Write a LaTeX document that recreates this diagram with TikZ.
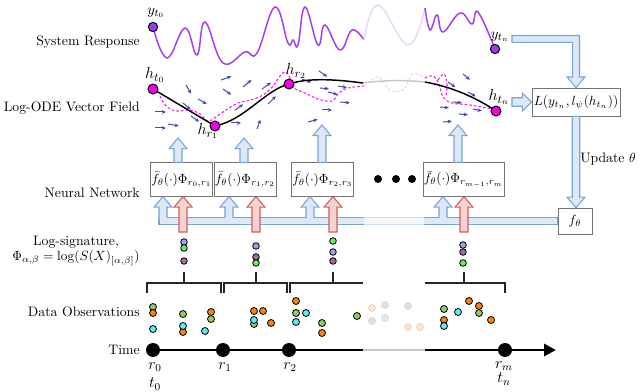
\documentclass[tikz,border=0pt]{standalone}
\usetikzlibrary{arrows.meta,calc}
\definecolor{wavec}{HTML}{A23CF5}
\definecolor{wavef}{HTML}{EBD6FA}
\definecolor{hmag}{HTML}{F200E6}
\definecolor{dashm}{HTML}{F020E8}
\definecolor{dashf}{HTML}{F9CDF5}
\definecolor{vfc}{HTML}{4848B0}
\definecolor{bfill}{HTML}{DCE8F6}
\definecolor{bdraw}{HTML}{7BA3D6}
\definecolor{rfill}{HTML}{F6D3D2}
\definecolor{rdraw}{HTML}{C9605C}
\definecolor{obsO}{HTML}{FF7F0E}
\definecolor{obsG}{HTML}{8DCA6A}
\definecolor{obsC}{HTML}{5CEAF0}
\definecolor{sigB}{HTML}{9E9EF2}
\definecolor{sigG}{HTML}{6BEA5A}
\definecolor{sigM}{HTML}{A8689C}
\definecolor{ydot}{HTML}{9A3BEB}
\newcommand\UpArr[3]{\path[#1] let \p1=(#2), \p2=(#3) in (\x1-3pt,\y1) -- (\x1-3pt,\y2-8pt) -- (\x1-6.75pt,\y2-8pt) -- (\x1,\y2) -- (\x1+6.75pt,\y2-8pt) -- (\x1+3pt,\y2-8pt) -- (\x1+3pt,\y1) -- cycle;}
\newcommand\DownArr[3]{\path[#1] let \p1=(#2), \p2=(#3) in (\x1-2.8pt,\y1) -- (\x1-2.8pt,\y2+8pt) -- (\x1-6.75pt,\y2+8pt) -- (\x1,\y2) -- (\x1+6.75pt,\y2+8pt) -- (\x1+2.8pt,\y2+8pt) -- (\x1+2.8pt,\y1) -- cycle;}
\newcommand\RightArr[3]{\path[#1] let \p1=(#2), \p2=(#3) in (\x1,\y1+3.2pt) -- (\x2-7pt,\y1+3.2pt) -- (\x2-7pt,\y1+6.75pt) -- (\x2,\y1) -- (\x2-7pt,\y1-6.75pt) -- (\x2-7pt,\y1-3.2pt) -- (\x1,\y1-3.2pt) -- cycle;}
\begin{document}
\begin{tikzpicture}[x=0.75pt,y=-0.75pt,
  lab/.style={font=\fontsize{10.3}{12.5}\selectfont, inner sep=0pt},
  mlab/.style={font=\fontsize{12}{14}\selectfont, inner sep=0pt},
  nbox/.style={draw=black!55, fill=white, line width=0.5pt, minimum height=25pt, inner sep=0.5pt, font=\fontsize{9.6}{11}\selectfont},
  barr/.style={draw=bdraw, fill=bfill, line width=0.8pt},
  rarr/.style={draw=rdraw, fill=rfill, line width=0.8pt},
  hdot/.style={circle, fill=hmag, draw=black, line width=0.7pt, minimum size=7.5pt, inner sep=0pt},
  ydotst/.style={circle, fill=ydot, draw=black, line width=0.7pt, minimum size=7pt, inner sep=0pt},
  tdot/.style={circle, fill=black, minimum size=10.5pt, inner sep=0pt},
  axisl/.style={line width=2.2pt},
  brk/.style={line width=1.2pt, black!85},
  obs/.style={draw=black, line width=0.6pt},
  obsf/.style={draw=black!15, line width=0.6pt},
  vfa/.style={vfc, line width=0.75pt, -{Stealth[length=3.2pt,width=2.8pt]}},
  wavel/.style={wavec, line width=1.1pt},
  curvel/.style={black, line width=1.1pt},
  dashl/.style={dashm, line width=0.8pt, dash pattern=on 2pt off 1.5pt}]
\useasboundingbox (0,0) rectangle (640,392);

% ---------- left labels ----------
\node[lab, anchor=east] (lsys) at (140,42) {System Response};
\node[lab, anchor=east] (lode) at (140,108) {Log-ODE Vector Field};
\node[lab, anchor=east] (lnn) at (140,193) {Neural Network};
\node[lab, align=center] (llog) at (76,251) {Log-signature,\\[-1pt] $\Phi_{\alpha,\beta}=\log(S(X)_{[\alpha,\beta]})$};
\node[lab, anchor=east] (lobs) at (140,312) {Data Observations};
\node[lab, anchor=east] (ltime) at (140,350) {Time};

% ---------- system response wave ----------
\draw[wavel] plot[smooth, tension=0.7] coordinates {(153,27) (167,58) (185,28) (197,55) (205,22) (223,63) (245,52) (257,53) (275,7) (288,43) (293,40) (298,45) (305,7) (318,45) (325,25) (340,50) (352,30) (364,40)};
\draw[wavef, line width=1.1pt] plot[smooth, tension=0.7] coordinates {(364,40) (378,5) (408,45) (425,8)};
\draw[wavel] plot[smooth, tension=0.7] coordinates {(425,8) (430,30) (437,15) (443,32) (460,13) (472,24) (478,12) (495,49)};
\node[ydotst] (yt0) at (153,27) {};
\node[ydotst] (ytn) at (495,49) {};
\node[mlab, font=\fontsize{11}{13}\selectfont] (lyt0) at (156,13) {$y_{t_0}$};
\node[mlab, font=\fontsize{11}{13}\selectfont] (lytn) at (500,37) {$y_{t_n}$};

% ---------- vector field arrows ----------
\foreach \x/\y/\a/\l in {155/112/0/11, 155/128/0/11, 168/124/10/11, 186/85/60/10, 183/103/40/10, 198/99/30/10, 191/116/35/10,
  221/80/-20/11, 243/87/-40/11, 223/89/35/10, 235/110/-35/10, 231/123/0/10, 262/89/-35/11, 268/104/-45/11, 257/129/-70/10,
  302/79/20/10, 319/71/35/10, 322/110/0/10, 308/122/-15/10, 328/92/15/10, 338/86/10/9, 340/102/5/10, 320/88/5/9,
  448/82/35/9, 463/74/40/9, 468/92/30/9, 453/102/5/9, 440/107/5/9, 459/114/5/9, 473/109/12/9, 443/122/-5/9}
  \draw[vfa] (\x,\y) -- ++(\a:\l);

% ---------- log-ODE trajectory ----------
\coordinate (Ht0) at (153,89);
\coordinate (Hr1) at (215,126);
\coordinate (Hr2) at (289,84);
\coordinate (Htn) at (496,111);
\coordinate (G1) at (363,83);
\coordinate (G2) at (425,82);
\draw[dashl] plot[smooth, tension=0.6] coordinates {(160,96) (166,106) (176,111) (190,110) (200,114) (208,121) (216,117) (226,110) (238,103) (251,100) (263,95) (273,86) (280,76) (286,72) (291,80) (294,88) (305,93) (318,99) (332,101) (339,93) (348,88) (364,86)};
\draw[dashf, line width=0.8pt, dash pattern=on 2pt off 1.5pt] plot[smooth, tension=0.6] coordinates {(364,86) (378,77) (390,90) (403,90) (413,74) (425,78)};
\draw[dashl] plot[smooth, tension=0.6] coordinates {(425,78) (433,76) (439,84) (443,97) (452,103) (470,105) (492,109)};
\draw[dashl] plot[smooth, tension=0.6] coordinates {(438,80) (444,74) (447,84) (446,96)};
\draw[curvel] (Ht0) -- (Hr1) .. controls (245,120) and (265,90) .. (Hr2) .. controls (310,77) and (340,80) .. (G1);
\draw[black!22, line width=1.1pt] (G1) .. controls (385,80) and (405,80) .. (G2);
\draw[curvel] (G2) .. controls (452,87) and (475,97) .. (Htn);
\node[hdot] (ht0) at (Ht0) {};
\node[hdot] (hr1) at (Hr1) {};
\node[hdot] (hr2) at (Hr2) {};
\node[hdot] (htn) at (Htn) {};
\node[mlab, font=\fontsize{13}{15}\selectfont] (lht0) at (155,75) {$h_{t_0}$};
\node[mlab, font=\fontsize{13}{15}\selectfont] (lhr1) at (208,131) {$h_{r_1}$};
\node[mlab, font=\fontsize{13}{15}\selectfont] (lhr2) at (296,71) {$h_{r_2}$};
\node[mlab, font=\fontsize{13}{15}\selectfont] (lhtn) at (499,97) {$h_{t_n}$};

% ---------- boxes ----------
\node[nbox, minimum width=44pt] (b1) at (181.5,179.5) {$\bar f_\theta(\cdot)\Phi_{r_0,r_1}$};
\node[nbox, minimum width=44pt] (b2) at (245,179.5) {$\bar f_\theta(\cdot)\Phi_{r_1,r_2}$};
\node[nbox, minimum width=44pt] (b3) at (322.5,179.5) {$\bar f_\theta(\cdot)\Phi_{r_2,r_3}$};
\node[nbox, minimum width=55pt] (b4) at (463.5,179.5) {$\bar f_\theta(\cdot)\Phi_{r_{m-1},r_m}$};
\node[nbox, minimum width=25.5pt, minimum height=20pt, font=\fontsize{10}{12}\selectfont] (fth) at (575,221.5) {$f_\theta$};
\node[nbox, minimum width=66pt, minimum height=21pt, font=\fontsize{10}{12}\selectfont] (Lb) at (576,102) {$L(y_{t_n},l_\psi(h_{t_n}))$};
\foreach \x in {378,396,412} \fill (\x,179) circle[radius=4];

% ---------- arrows from boxes to the vector field ----------
\UpArr{barr}{178,0 |- b1.north}{178,138}
\UpArr{barr}{244,0 |- b2.north}{244,138}
\UpArr{barr}{322,0 |- b3.north}{322,125}
\UpArr{barr}{458,0 |- b4.north}{458,125}

% ---------- bus from f_theta ----------
\path[barr] let \p1=(163,221), \p2=(fth.west) in (\x1-3pt,\y1+2.6pt) rectangle (\x2,\y1-2.6pt);
\UpArr{barr}{163,221}{163,0 |- b1.south}
\UpArr{barr}{229,221}{229,0 |- b2.south}
\UpArr{barr}{310,221}{310,0 |- b3.south}
\UpArr{barr}{443,221}{443,0 |- b4.south}
\fill[bfill] let \p1=(163,221), \p2=(fth.west) in (\x1-2.6pt,\y1+2.2pt) rectangle (\x2-0.4pt,\y1-2.2pt);
\fill[white, opacity=0.65] (364,216) rectangle (424,227);
\UpArr{rarr}{183,232}{183,0 |- b1.south}
\UpArr{rarr}{256,232}{256,0 |- b2.south}
\UpArr{rarr}{333,232}{333,0 |- b3.south}
\UpArr{rarr}{464,232}{464,0 |- b4.south}

% ---------- loss branch ----------
\path[barr] let \p1=(512,39), \p2=(Lb.north) in (\x1,\y1+2.6pt) -- (\x2+2.6pt,\y1+2.6pt) -- (\x2+2.6pt,\y2+8pt) -- (\x2+6.75pt,\y2+8pt) -- (\x2,\y2) -- (\x2-6.75pt,\y2+8pt) -- (\x2-2.6pt,\y2+8pt) -- (\x2-2.6pt,\y1-2.6pt) -- (\x1,\y1-2.6pt) -- cycle;
\RightArr{barr}{512,102}{Lb.west}
\DownArr{barr}{Lb.south}{fth.north}
\node[lab, anchor=west] (lupd) at (580,159) {Update $\theta$};

% ---------- log-signature dots ----------
\foreach \x/\y/\c in {184/242/sigB, 184/248/sigG, 184/261/sigM,
  256/246/sigB, 256/257/sigM, 256/263/sigG,
  333/241/sigG, 333/252/sigB, 333/261/sigM,
  463/245/sigB, 463/252/sigM, 463/263/sigG}
  \filldraw[obs, fill=\c] (\x,\y) circle[radius=3.3];

% ---------- brackets ----------
\draw[brk] (147,293) -- (147,283) -- (221,283) -- (221,293);
\draw[brk] (184,283) -- (184,272);
\draw[brk] (224,293) -- (224,283) -- (287,283) -- (287,293);
\draw[brk] (256,283) -- (256,272);
\draw[brk] (290,293) -- (290,283) -- (363,283);
\draw[brk] (333,283) -- (333,272);
\draw[brk] (425,283) -- (505,283) -- (505,293);
\draw[brk] (464,283) -- (464,272);

% ---------- data observations ----------
\foreach \x/\y/\c in {153/307/obsG, 153/313/obsO, 153/329/obsC,
  183/314/obsG, 183/332/obsO, 183/326/obsC, 205/331/obsC, 211/312/obsO, 211/319/obsG,
  254/324/obsG, 254/311/obsO, 254/320/obsC, 263/311/obsO, 271/323/obsO,
  296/301/obsO, 296/313/obsG, 296/322/obsC, 306/313/obsC, 322/323/obsG, 322/333/obsO, 357/316/obsG,
  444/309/obsG, 444/320/obsO, 444/326/obsC, 458/312/obsC, 469/301/obsO, 479/306/obsO, 479/313/obsG, 491/320/obsO}
  \filldraw[obs, fill=\c] (\x,\y) circle[radius=3.5];
\foreach \x/\y/\c in {372/308/obsO!22, 372/321/black!12, 385/305/black!12, 385/318/blue!10, 408/306/black!12, 408/327/obsO!22, 420/327/obsO!22}
  \filldraw[obsf, fill=\c] (\x,\y) circle[radius=3.5];

% ---------- time axis ----------
\coordinate (T0) at (153,350);
\coordinate (T1) at (223,350);
\coordinate (T2) at (289,350);
\coordinate (Tm) at (505,350);
\coordinate (Ga) at (363,350);
\coordinate (Gb) at (425,350);
\coordinate (Tend) at (556,350);
\draw[axisl] (T0) -- (Ga);
\draw[axisl, black!22] (Ga) -- (Gb);
\draw[axisl, -{Triangle[length=9pt,width=9pt]}] (Gb) -- (Tend);
\node[tdot] (r0) at (T0) {};
\node[tdot] (r1) at (T1) {};
\node[tdot] (r2) at (T2) {};
\node[tdot] (rm) at (Tm) {};
\node[mlab] (lr0) at (155,367) {$r_0$};
\node[mlab] (lt0) at (155,384) {$t_0$};
\node[mlab] (lr1) at (225,367) {$r_1$};
\node[mlab] (lr2) at (290,367) {$r_2$};
\node[mlab] (lrm) at (504,366) {$r_m$};
\node[mlab] (ltn) at (504,379) {$t_n$};
\end{tikzpicture}
\end{document}
